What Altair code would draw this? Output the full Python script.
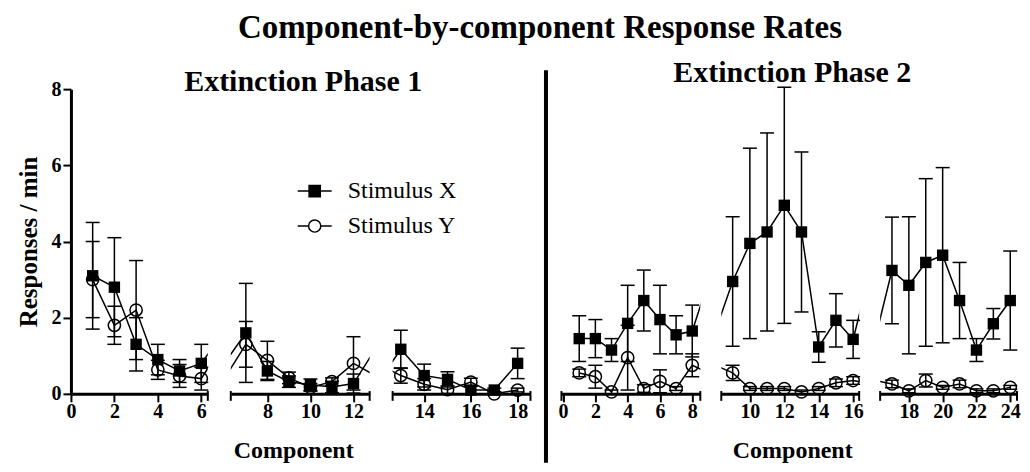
import altair as alt
import pandas as pd

# ---------------- data ----------------
series_names = ["Stimulus X", "Stimulus Y"]

# Extinction Phase 1 (components 1-18)
p1_comp = list(range(1, 19))
p1_x = [3.1, 2.8, 1.3, 0.9, 0.6, 0.8, 1.6, 0.6, 0.32, 0.24, 0.18, 0.27, 1.17, 0.48, 0.38, 0.1, 0.1, 0.8]
p1_x_err = [1.4, 1.3, 0.7, 0.4, 0.3, 0.5, 1.3, 0.25, 0.15, 0.15, 0.15, 0.25, 0.5, 0.3, 0.2, 0.1, 0.05, 0.4]
p1_y = [3.0, 1.8, 2.2, 0.63, 0.47, 0.4, 1.3, 0.88, 0.42, 0.17, 0.32, 0.8, 0.48, 0.25, 0.11, 0.31, 0.0, 0.1]
p1_y_err = [1.0, 0.5, 1.3, 0.25, 0.3, 0.3, 0.6, 0.5, 0.15, 0.1, 0.1, 0.7, 0.2, 0.15, 0.1, 0.1, 0.05, 0.05]

# Extinction Phase 2 (components 1-24)
p2_comp = list(range(1, 25))
p2_x = [1.45, 1.45, 1.15, 1.85, 2.45, 1.95, 1.55, 1.65, 2.95, 3.95, 4.25, 4.95,
        4.25, 1.23, 1.93, 1.43, 3.24, 2.85, 3.45, 3.64, 2.45, 1.15, 1.84, 2.45]
p2_x_err = [0.6, 0.5, 0.3, 1.0, 0.8, 0.9, 0.5, 0.68, 1.7, 2.5, 2.6, 3.1,
            2.1, 0.4, 0.7, 0.5, 1.4, 1.8, 2.2, 2.3, 1.0, 0.3, 0.4, 1.3]
p2_y = [0.55, 0.45, 0.05, 0.95, 0.14, 0.33, 0.14, 0.75, 0.55, 0.14, 0.14, 0.14,
        0.05, 0.14, 0.29, 0.35, 0.26, 0.08, 0.35, 0.17, 0.26, 0.08, 0.08, 0.17]
p2_y_err = [0.1, 0.3, 0.05, 0.85, 0.1, 0.3, 0.05, 0.3, 0.2, 0.05, 0.05, 0.05,
            0.05, 0.05, 0.1, 0.1, 0.1, 0.05, 0.17, 0.05, 0.1, 0.05, 0.05, 0.05]

# axis segments (x domains) and tick labels
p1_domains = [[0, 6.3], [6.3, 12.75], [12.65, 18.55]]
p1_ticks = [[0, 2, 4, 6], [8, 10, 12], [14, 16, 18]]
p2_domains = [[-0.1, 8.5], [8.34, 16.35], [16.3, 24.4]]
p2_ticks = [[0, 2, 4, 6, 8], [10, 12, 14, 16], [18, 20, 22, 24]]

FONT = "Liberation Serif"
H = 305


def make_table(comp, xv, xe, yv, ye):
    rows = []
    for c, v, e in zip(comp, xv, xe):
        rows.append({"comp": c, "series": series_names[0], "value": v,
                     "lo": max(0.0, v - e), "hi": v + e})
    for c, v, e in zip(comp, yv, ye):
        rows.append({"comp": c, "series": series_names[1], "value": v,
                     "lo": max(0.0, v - e), "hi": v + e})
    return pd.DataFrame(rows)


df1 = make_table(p1_comp, p1_x, p1_x_err, p1_y, p1_y_err)
df2 = make_table(p2_comp, p2_x, p2_x_err, p2_y, p2_y_err)

SQ_PATH = "M-1,0L-0.33,0M0.33,0L1,0M-0.33,-0.33L0.33,-0.33L0.33,0.33L-0.33,0.33Z"
CI_PATH = ("M-1,0L-0.36,0M0.36,0L1,0M0.36,0A0.36,0.36,0,1,1,-0.36,0"
           "A0.36,0.36,0,1,1,0.36,0Z")


def panel(df, dom, width, ticks, caps, show_y=False, xtitle=None, title=None,
          legend=False, title_shift=0):
    xs = alt.Scale(domain=dom, nice=False, zero=False)
    ys = alt.Scale(domain=[0, 8], nice=False)
    xaxis = alt.Axis(values=ticks, title=xtitle, tickSize=8, tickWidth=2,
                     domainWidth=3, labelPadding=0, labelFlush=False,
                     labelOverlap=False, titlePadding=17,
                     titleX=width / 2 + title_shift)
    if show_y:
        yaxis = alt.Axis(values=[0, 2, 4, 6, 8], title="Responses / min",
                         tickSize=8, tickWidth=2, domainWidth=3, labelPadding=2,
                         titlePadding=9, labelFlush=False)
    else:
        yaxis = None
    X = alt.X("comp:Q", scale=xs, axis=xaxis)
    inside = f"datum.comp >= {dom[0]} && datum.comp <= {dom[1]}"
    base = alt.Chart(df)

    lines = base.mark_line(clip=True, color="black", strokeWidth=1.5).encode(
        x=X, y=alt.Y("value:Q", scale=ys, axis=yaxis), detail="series:N")
    bars = base.transform_filter(inside).mark_rule(color="black", strokeWidth=1.5).encode(
        x=X, y=alt.Y("lo:Q", scale=ys, axis=yaxis), y2="hi:Q")
    cap_lo = base.transform_filter(inside).mark_point(
        shape="M-1,0L1,0", size=196, color="black", strokeWidth=1.5, opacity=1).encode(
        x=X, y=alt.Y("lo:Q", scale=ys, axis=yaxis))
    cap_hi = base.transform_filter(inside).mark_point(
        shape="M-1,0L1,0", size=196, color="black", strokeWidth=1.5, opacity=1).encode(
        x=X, y=alt.Y("hi:Q", scale=ys, axis=yaxis))
    squares = base.transform_filter(inside).transform_filter(
        f"datum.series == '{series_names[0]}'").mark_point(
        shape="square", filled=True, size=130, color="black", opacity=1).encode(
        x=X, y=alt.Y("value:Q", scale=ys, axis=yaxis))
    circles = base.transform_filter(inside).transform_filter(
        f"datum.series == '{series_names[1]}'").mark_point(
        shape="circle", filled=False, size=150, color="black", strokeWidth=1.5,
        opacity=1).encode(
        x=X, y=alt.Y("value:Q", scale=ys, axis=yaxis))
    layers = [lines, bars, cap_lo, cap_hi, squares, circles]

    if caps:
        ends = alt.Chart(pd.DataFrame({"comp": caps})).mark_point(
            shape="M0,-0.4L0,1", size=196, color="black", strokeWidth=2,
            opacity=1).encode(
            x=X, y=alt.Y(datum=0, scale=ys, axis=yaxis))
        layers.append(ends)

    if legend:
        leg = alt.Legend(orient="none", legendX=226, legendY=84, title=None,
                         symbolSize=1156, labelFont=FONT,
                         labelFontSize=24, labelFontWeight="normal",
                         labelColor="black", labelOffset=15, rowPadding=5,
                         padding=0, labelLimit=300,
                         symbolStrokeWidth=1.5, symbolOpacity=1)
        lg = base.transform_filter("false").mark_point(
            filled=False, strokeWidth=1.5, opacity=1).encode(
            x=X, y=alt.Y("value:Q", scale=ys, axis=yaxis),
            shape=alt.Shape("series:N", scale=alt.Scale(domain=series_names,
                            range=[SQ_PATH, CI_PATH]), legend=leg),
            fill=alt.Fill("series:N", scale=alt.Scale(domain=series_names,
                          range=["black", "white"]), legend=leg),
            stroke=alt.Stroke("series:N", scale=alt.Scale(domain=series_names,
                              range=["black", "black"]), legend=leg))
        layers.append(lg)

    props = dict(width=width, height=H)
    if title is not None:
        props["title"] = title
    return alt.layer(*layers).properties(**props)


def spacer(w):
    return alt.Chart(pd.DataFrame({"a": [0]})).mark_point(opacity=0).encode(
        x=alt.value(0), y=alt.value(0)).properties(width=w, height=H)


sep = alt.Chart(pd.DataFrame({"a": [0]})).mark_rule(
    color="black", strokeWidth=4).encode(
    x=alt.value(5.5), y=alt.value(-19), y2=alt.value(374)).properties(width=11, height=H)

t1 = alt.TitleParams("Extinction Phase 1", font=FONT, fontSize=30,
                     fontWeight="bold", color="black", anchor="middle",
                     offset=-8, dx=3)
t2 = alt.TitleParams("Extinction Phase 2", font=FONT, fontSize=30,
                     fontWeight="bold", color="black", anchor="middle",
                     offset=-4, dx=2)

l1 = panel(df1, p1_domains[0], 137, p1_ticks[0], [p1_domains[0][1]], show_y=True)
l2 = panel(df1, p1_domains[1], 139, p1_ticks[1], p1_domains[1], xtitle="Component",
           title=t1, legend=True, title_shift=-7)
l3 = panel(df1, p1_domains[2], 138, p1_ticks[2], p1_domains[2])
r1 = panel(df2, p2_domains[0], 139, p2_ticks[0], p2_domains[0])
r2 = panel(df2, p2_domains[1], 138, p2_ticks[1], p2_domains[1], xtitle="Component",
           title=t2, title_shift=2)
r3 = panel(df2, p2_domains[2], 137, p2_ticks[2], p2_domains[2])

chart = alt.hconcat(
    l1, spacer(3), l2, spacer(3), l3, sep, r1, spacer(1), r2, spacer(1), r3,
    spacing=10, bounds="flush",
    title=alt.TitleParams("Component-by-component Response Rates", font=FONT,
                          fontSize=33, fontWeight="bold", color="black",
                          anchor="middle", offset=13, dx=21),
).properties(
    padding={"left": 8, "top": 3, "right": 0, "bottom": 0}
).configure_view(
    stroke="transparent"
).configure_axis(
    labelFont=FONT, labelFontSize=20, labelFontWeight="bold", labelColor="black",
    titleFont=FONT, titleFontSize=24, titleFontWeight="bold", titleColor="black",
    domainColor="black", tickColor="black", grid=False
).configure_axisY(
    titleFontSize=25
).configure_legend(
    labelFont=FONT, labelFontSize=24, labelColor="black"
)

chart.save("out.html", embed_options={"renderer": "svg", "actions": False})
